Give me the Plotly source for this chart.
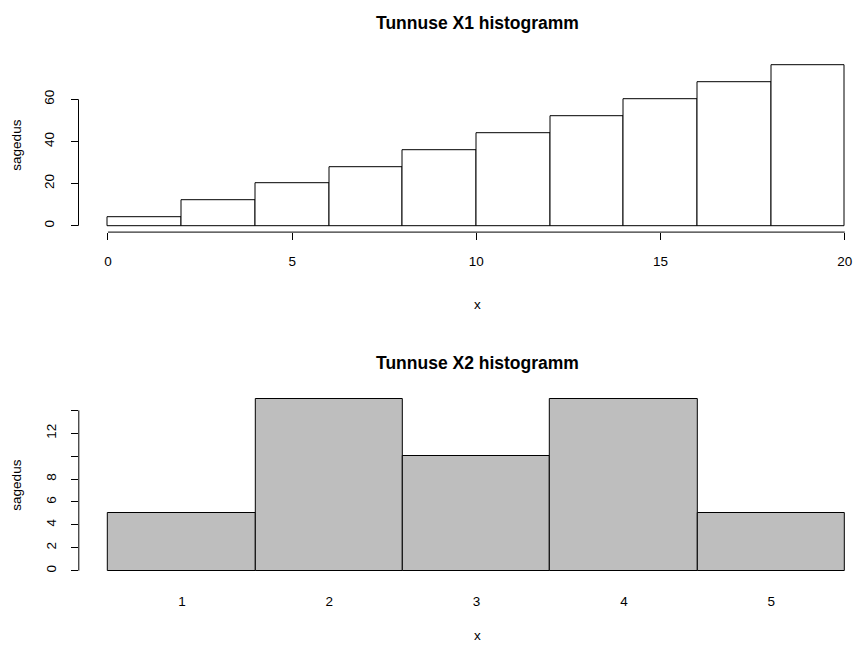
import plotly.graph_objects as go

# ---------------- data ----------------
x1_breaks = [0, 2, 4, 6, 8, 10, 12, 14, 16, 18, 20]
x1_counts = [4, 12, 20, 28, 36, 44, 52, 60, 68, 76]
x1_xticks = [0, 5, 10, 15, 20]
x1_yticks = [0, 20, 40, 60]

x2_categories = [1, 2, 3, 4, 5]
x2_counts = [5, 15, 10, 15, 5]
x2_yticks = [0, 2, 4, 6, 8, 10, 12, 14]
x2_yticklabels = ["0", "2", "4", "6", "8", "", "12", ""]

title1 = "Tunnuse X1 histogramm"
title2 = "Tunnuse X2 histogramm"
xlabel = "x"
ylabel = "sagedus"

# ---------------- layout constants (pixels) ----------------
W, H = 857, 645
FONT = "Liberation Sans, Arial, sans-serif"
TICKSIZE = 13.5
TITLESIZE = 17.5


def py(p):
    return 1 - p / H


def pxx(p):
    return p / W


# top panel
t_left, t_top, t_bottom = 78.5, 59.2, 232.1
t_ppu = 36.84
t_lo = x1_breaks[0] - 0.04 * (x1_breaks[-1] - x1_breaks[0])
t_xrange = [t_lo, t_lo + (W - t_left) / t_ppu]
t_ymax = max(x1_counts)
t_yrange = [-0.04 * t_ymax, 1.04 * t_ymax]

# bottom panel
b_left, b_top, b_bottom = 78.8, 392.0, 579.3
b_ppu = 147.34
b_lo = x2_categories[0] - 0.5 - 0.04 * len(x2_categories)
b_xrange = [b_lo, b_lo + (W - b_left) / b_ppu]
b_ymax = max(x2_counts)
b_ymin = -0.01 * b_ymax
b_yrange = [b_ymin - 0.04 * (b_ymax - b_ymin), b_ymax + 0.04 * (b_ymax - b_ymin)]

centers = [(a + b) / 2 for a, b in zip(x1_breaks[:-1], x1_breaks[1:])]
widths = [b - a for a, b in zip(x1_breaks[:-1], x1_breaks[1:])]

fig = go.Figure()
fig.add_trace(go.Bar(
    x=centers, y=x1_counts, width=widths,
    marker=dict(color="white", line=dict(color="black", width=1)),
    xaxis="x", yaxis="y", showlegend=False, hoverinfo="x+y",
))
fig.add_trace(go.Bar(
    x=x2_categories, y=x2_counts, width=[1] * len(x2_categories),
    marker=dict(color="#bebebe", line=dict(color="black", width=1)),
    xaxis="x2", yaxis="y2", showlegend=False, hoverinfo="x+y",
))

tickfont = dict(family=FONT, size=TICKSIZE, color="black")
common = dict(showgrid=False, zeroline=False, showline=False, tickfont=tickfont,
              ticks="outside", ticklen=7, tickwidth=1, tickcolor="black")

fig.update_layout(
    width=W, height=H,
    margin=dict(l=0, r=0, t=0, b=0),
    plot_bgcolor="white", paper_bgcolor="white",
    bargap=0,
    xaxis=dict(domain=[pxx(t_left), 1], range=t_xrange, anchor="y",
               tickvals=x1_xticks, ticktext=[str(v) for v in x1_xticks],
               ticklabelstandoff=10, **common),
    yaxis=dict(domain=[py(t_bottom), py(t_top)], range=t_yrange, anchor="x",
               tickvals=x1_yticks, ticktext=[str(v) for v in x1_yticks],
               tickangle=-90, ticklabelstandoff=11, **common),
    xaxis2=dict(domain=[pxx(b_left), 1], range=b_xrange, anchor="y2",
                tickvals=x2_categories, ticktext=[str(v) for v in x2_categories],
                showgrid=False, zeroline=False, showline=False, tickfont=tickfont,
                ticks="", ticklabelstandoff=12),
    yaxis2=dict(domain=[py(b_bottom), py(b_top)], range=b_yrange, anchor="x2",
                tickvals=x2_yticks, ticktext=x2_yticklabels,
                tickangle=-90, ticklabelstandoff=9, **common),
)

shapes = [
    # top x axis line
    dict(type="line", xref="x", yref="paper", x0=x1_breaks[0], x1=x1_breaks[-1],
         y0=py(t_bottom), y1=py(t_bottom), line=dict(color="black", width=1)),
    # top y axis line
    dict(type="line", xref="paper", yref="y", x0=pxx(t_left), x1=pxx(t_left),
         y0=x1_yticks[0], y1=x1_yticks[-1], line=dict(color="black", width=1)),
    # bottom y axis line
    dict(type="line", xref="paper", yref="y2", x0=pxx(b_left), x1=pxx(b_left),
         y0=x2_yticks[0], y1=x2_yticks[-1], line=dict(color="black", width=1)),
]
fig.update_layout(shapes=shapes)

lab = dict(family=FONT, size=TICKSIZE, color="black")
ttl = dict(family="Liberation Sans, Arial, sans-serif", size=TITLESIZE, color="black")
cx = pxx(477.5)
annotations = [
    dict(text="<b>%s</b>" % title1, x=cx, y=py(23), xref="paper", yref="paper",
         showarrow=False, font=ttl, xanchor="center", yanchor="middle"),
    dict(text="<b>%s</b>" % title2, x=cx, y=py(363), xref="paper", yref="paper",
         showarrow=False, font=ttl, xanchor="center", yanchor="middle"),
    dict(text=xlabel, x=cx, y=py(305), xref="paper", yref="paper",
         showarrow=False, font=lab, xanchor="center", yanchor="middle"),
    dict(text=xlabel, x=cx, y=py(635), xref="paper", yref="paper",
         showarrow=False, font=lab, xanchor="center", yanchor="middle"),
    dict(text=ylabel, x=pxx(17), y=py((t_top + t_bottom) / 2), xref="paper", yref="paper",
         showarrow=False, font=lab, textangle=-90, xanchor="center", yanchor="middle"),
    dict(text=ylabel, x=pxx(17), y=py((b_top + b_bottom) / 2), xref="paper", yref="paper",
         showarrow=False, font=lab, textangle=-90, xanchor="center", yanchor="middle"),
]
fig.update_layout(annotations=annotations)

fig.write_html(
    "out.html",
    config={"displayModeBar": False},
    post_script="document.body.style.margin='0';document.body.style.overflow='hidden';",
)
